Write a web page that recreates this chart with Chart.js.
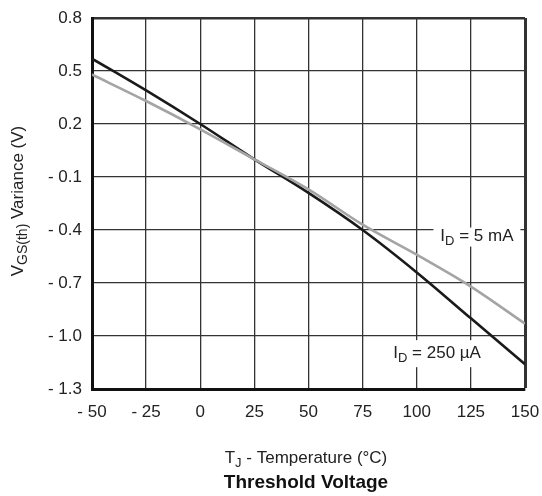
<!DOCTYPE html>
<html>
<head>
<meta charset="utf-8">
<script src="https://cdn.jsdelivr.net/npm/chart.js@4/dist/chart.umd.min.js"></script>
<style>
  body { margin: 0; background: #fff; }
  #wrap { width: 542px; height: 496px; }
</style>
</head>
<body>
<div id="wrap"><canvas id="chart" width="542" height="496"></canvas></div>
<script>
// temperature points (°C)
const temps = [-50, -25, 0, 25, 50, 75, 100, 125, 150];
// VGS(th) variance (V)
const id250uA = [0.57, 0.39, 0.20, 0.00, -0.19, -0.40, -0.64, -0.90, -1.16];
const id5mA = [0.48, 0.33, 0.17, 0.00, -0.17, -0.37, -0.54, -0.72, -0.93];

const xTicks = [-50, -25, 0, 25, 50, 75, 100, 125, 150];
const yTicks = [-1.3, -1.0, -0.7, -0.4, -0.1, 0.2, 0.5, 0.8];

// where the two curve labels sit, in data units
const labels = [
  { x: 127.8, y: -0.44, main: "I", sub: "D", rest: " = 5 mA", boxW: 87, boxH: 19 },
  { x: 109.4, y: -1.10, main: "I", sub: "D", rest: " = 250 µA", boxW: 98, boxH: 27 }
];

const font = "Liberation Sans, Arial, sans-serif";
const textColor = "#222";

function fmt(v) {
  const s = Math.abs(v).toFixed(1);
  return v < 0 ? "- " + s : s;
}

// text with a subscript part, drawn left to right from x
function subText(ctx, x, y, main, sub, rest, size, subSize) {
  ctx.font = size + "px " + font;
  ctx.fillText(main, x, y);
  x += ctx.measureText(main).width;
  ctx.font = subSize + "px " + font;
  ctx.fillText(sub, x, y + size * 0.25);
  x += ctx.measureText(sub).width;
  ctx.font = size + "px " + font;
  ctx.fillText(rest, x, y);
}
function subWidth(ctx, main, sub, rest, size, subSize) {
  ctx.font = size + "px " + font;
  let w = ctx.measureText(main).width + ctx.measureText(rest).width;
  ctx.font = subSize + "px " + font;
  return w + ctx.measureText(sub).width;
}

const textPlugin = {
  id: "texts",
  afterDatasetsDraw(chart) {
    const ctx = chart.ctx;
    const xs = chart.scales.x, ys = chart.scales.y;
    ctx.save();
    ctx.textBaseline = "alphabetic";
    ctx.textAlign = "left";
    labels.forEach(l => {
      const cx = xs.getPixelForValue(l.x);
      const cy = ys.getPixelForValue(l.y);
      ctx.fillStyle = "#fff";
      ctx.fillRect(cx - l.boxW / 2, cy - l.boxH / 2, l.boxW, l.boxH);
      ctx.fillStyle = textColor;
      const w = subWidth(ctx, l.main, l.sub, l.rest, 17, 13);
      subText(ctx, cx - w / 2, cy + 4, l.main, l.sub, l.rest, 17, 13);
    });

    // x axis title
    const xMid = 306;
    const w1 = subWidth(ctx, "T", "J", " - Temperature (°C)", 17, 13);
    subText(ctx, xMid - w1 / 2, 463, "T", "J", " - Temperature (°C)", 17, 13);
    ctx.font = "bold 19px " + font;
    ctx.textAlign = "center";
    ctx.fillStyle = "#111";
    ctx.fillText("Threshold Voltage", xMid, 488);

    // y axis title, rotated
    ctx.translate(23, 201);
    ctx.rotate(-Math.PI / 2);
    ctx.textAlign = "left";
    ctx.fillStyle = textColor;
    const w2 = subWidth(ctx, "V", "GS(th)", " Variance (V)", 17, 14);
    subText(ctx, -w2 / 2, 0, "V", "GS(th)", " Variance (V)", 17, 14);
    ctx.restore();
  }
};

new Chart(document.getElementById("chart"), {
  type: "line",
  data: {
    labels: temps,
    datasets: [
      {
        label: "ID = 5 mA",
        data: temps.map((t, i) => ({ x: t, y: id5mA[i] })),
        borderColor: "#a4a4a4",
        borderWidth: 2.6,
        pointRadius: 0,
        cubicInterpolationMode: "monotone"
      },
      {
        label: "ID = 250 µA",
        data: temps.map((t, i) => ({ x: t, y: id250uA[i] })),
        borderColor: "#1a1a1a",
        borderWidth: 2.6,
        pointRadius: 0,
        cubicInterpolationMode: "monotone"
      }
    ]
  },
  options: {
    responsive: false,
    animation: false,
    layout: { padding: { top: 18, right: 17, left: 0, bottom: 0 } },
    plugins: { legend: { display: false }, tooltip: { enabled: false } },
    scales: {
      x: {
        type: "linear",
        min: -50,
        max: 150,
        afterBuildTicks: s => { s.ticks = xTicks.map(v => ({ value: v })); },
        afterFit: s => { s.height = 107; s.paddingLeft = 0; s.paddingRight = 0; },
        ticks: {
          padding: 13,
          color: textColor,
          font: { family: font, size: 17 },
          callback: v => (v < 0 ? "- " + Math.abs(v) : String(v))
        },
        grid: {
          drawTicks: false,
          color: "#333",
          lineWidth: c => (c.tick && c.tick.value === 150 ? 3 : 1.3)
        },
        border: { display: true, width: 3, color: "#111" }
      },
      y: {
        min: -1.3,
        max: 0.8,
        afterBuildTicks: s => { s.ticks = yTicks.map(v => ({ value: v })); },
        afterFit: s => { s.width = 92; s.paddingTop = 0; s.paddingBottom = 0; },
        ticks: {
          padding: 10,
          color: textColor,
          font: { family: font, size: 17 },
          callback: v => fmt(v)
        },
        grid: {
          drawTicks: false,
          color: "#333",
          lineWidth: c => (c.tick && Math.abs(c.tick.value - 0.8) < 1e-6 ? 2.5 : 1.3)
        },
        border: { display: true, width: 3, color: "#111" }
      }
    }
  },
  plugins: [textPlugin]
});
</script>
</body>
</html>
